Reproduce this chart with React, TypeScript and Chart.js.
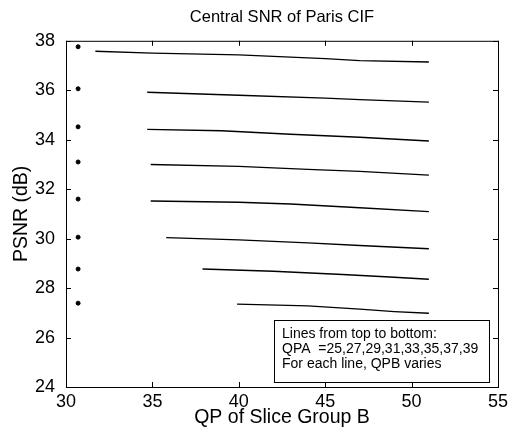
import { useEffect, useRef } from "react";
import { Chart, registerables } from "chart.js";

Chart.register(...registerables);

const chartTitle = "Central SNR of Paris CIF";
const xAxisTitle = "QP of Slice Group B";
const yAxisTitle = "PSNR (dB)";

// Start points, plotted as dots
const dotQP = 30.7;
const dotPSNR = [37.76, 36.06, 34.52, 33.1, 31.6, 30.06, 28.77, 27.39];

// Lines, QPA = 25..39 (top to bottom)
const qpbLine1 = [31.7, 35, 40, 45, 47, 51];
const psnrLine1 = [37.58, 37.5, 37.43, 37.28, 37.2, 37.14];
const qpbLine2 = [34.7, 40, 45, 47, 51];
const psnrLine2 = [35.92, 35.8, 35.68, 35.62, 35.52];
const qpbLine3 = [34.7, 39, 43, 47, 51];
const psnrLine3 = [34.42, 34.36, 34.22, 34.1, 33.95];
const qpbLine4 = [34.9, 40, 44, 47, 51];
const psnrLine4 = [33.0, 32.92, 32.8, 32.72, 32.57];
const qpbLine5 = [34.9, 40, 43, 47, 51];
const psnrLine5 = [31.52, 31.47, 31.4, 31.25, 31.09];
const qpbLine6 = [35.8, 40, 44, 47, 51];
const psnrLine6 = [30.04, 29.95, 29.83, 29.72, 29.59];
const qpbLine7 = [37.9, 42, 46, 49, 51];
const psnrLine7 = [28.77, 28.68, 28.55, 28.44, 28.36];
const qpbLine8 = [39.9, 44, 47, 49, 51];
const psnrLine8 = [27.35, 27.28, 27.15, 27.05, 26.98];

const lineQP = [qpbLine1, qpbLine2, qpbLine3, qpbLine4, qpbLine5, qpbLine6, qpbLine7, qpbLine8];
const linePSNR = [psnrLine1, psnrLine2, psnrLine3, psnrLine4, psnrLine5, psnrLine6, psnrLine7, psnrLine8];

const noteLines = [
  "Lines from top to bottom:",
  "QPA  =25,27,29,31,33,35,37,39",
  "For each line, QPB varies",
];

const FONT = "'Liberation Sans', Arial, sans-serif";

const boxPlugin = {
  id: "matlabBox",
  afterDraw(chart: any) {
    const { ctx, chartArea } = chart;
    const { left, right, top, bottom } = chartArea;
    const xs = chart.scales.x;
    const ys = chart.scales.y;
    ctx.save();
    ctx.strokeStyle = "#000";
    ctx.lineWidth = 1;
    ctx.strokeRect(left + 0.5, top + 0.5, right - left, bottom - top);
    const len = 5;
    ctx.beginPath();
    xs.ticks.forEach((t: any) => {
      const px = Math.round(xs.getPixelForValue(t.value)) + 0.5;
      ctx.moveTo(px, bottom);
      ctx.lineTo(px, bottom - len);
      ctx.moveTo(px, top);
      ctx.lineTo(px, top + len);
    });
    ys.ticks.forEach((t: any) => {
      const py = Math.round(ys.getPixelForValue(t.value)) + 0.5;
      ctx.moveTo(left, py);
      ctx.lineTo(left + len, py);
      ctx.moveTo(right, py);
      ctx.lineTo(right - len, py);
    });
    ctx.stroke();

    // annotation box
    const bx = right - 224;
    const by = bottom - 67;
    const bw = 215;
    const bh = 62;
    ctx.fillStyle = "#fff";
    ctx.fillRect(bx, by, bw, bh);
    ctx.strokeRect(bx + 0.5, by + 0.5, bw, bh);
    ctx.fillStyle = "#000";
    ctx.font = `14px ${FONT}`;
    ctx.textBaseline = "middle";
    ctx.textAlign = "left";
    noteLines.forEach((s, i) => {
      ctx.fillText(s, bx + 8, by + 14 + i * 15.2);
    });
    ctx.restore();
  },
};

export default function App() {
  const ref = useRef<HTMLCanvasElement | null>(null);

  useEffect(() => {
    if (!ref.current) return;
    const datasets: any[] = lineQP.map((xs, i) => ({
      label: `QPA line ${i + 1}`,
      data: xs.map((x, j) => ({ x, y: linePSNR[i][j] })),
      borderColor: "#000",
      borderWidth: 1.4,
      pointRadius: 0,
      showLine: true,
      tension: 0,
    }));
    datasets.push({
      label: "start",
      data: dotPSNR.map((y) => ({ x: dotQP, y })),
      showLine: false,
      pointRadius: 2,
      pointStyle: "circle",
      backgroundColor: "#000",
      borderColor: "#000",
    });

    const chart = new Chart(ref.current, {
      type: "scatter",
      data: { datasets },
      options: {
        animation: false,
        responsive: false,
        devicePixelRatio: 1,
        layout: { padding: { left: 0, right: 14, top: 0, bottom: 0 } },
        plugins: {
          legend: { display: false },
          tooltip: { enabled: false },
          title: {
            display: true,
            fullSize: false,
            text: chartTitle,
            color: "#000",
            font: { family: FONT, size: 16.5, weight: "normal" },
            padding: { top: 8, bottom: 13 },
          },
        },
        scales: {
          x: {
            type: "linear",
            min: 30,
            max: 55,
            afterFit: (s: any) => {
              s.height = 45;
            },
            ticks: {
              stepSize: 5,
              color: "#000",
              padding: 4,
              maxRotation: 0,
              font: { family: FONT, size: 18 },
            },
            grid: { display: false, drawTicks: false },
            border: { display: false },
            title: {
              display: true,
              text: xAxisTitle,
              color: "#000",
              font: { family: FONT, size: 19.5 },
              padding: { top: 0, bottom: 3 },
            },
          },
          y: {
            type: "linear",
            min: 24,
            max: 38,
            afterFit: (s: any) => {
              s.width = 66;
            },
            ticks: {
              stepSize: 2,
              color: "#000",
              padding: 11,
              font: { family: FONT, size: 18 },
            },
            grid: { display: false, drawTicks: false },
            border: { display: false },
            title: {
              display: true,
              text: yAxisTitle,
              color: "#000",
              font: { family: FONT, size: 19.5 },
              padding: { top: 10, bottom: 0 },
            },
          },
        },
      },
      plugins: [boxPlugin],
    });
    return () => chart.destroy();
  }, []);

  return (
    <div style={{ position: "absolute", left: 0, top: 0, width: 512, height: 432, background: "#fff" }}>
      <canvas ref={ref} width={512} height={432} style={{ width: 512, height: 432 }} />
    </div>
  );
}
